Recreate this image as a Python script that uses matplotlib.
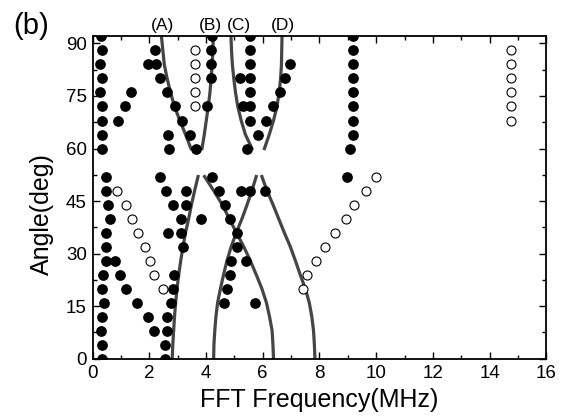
import numpy as np
import matplotlib
matplotlib.use('Agg')
import matplotlib.pyplot as plt
from matplotlib.ticker import MultipleLocator

plt.rcParams['font.family'] = ['Liberation Sans', 'DejaVu Sans']

# Filled points: one list of frequencies (MHz) per angle row (deg)
row_angles = [0, 4, 8, 12, 16, 20, 24, 28, 32, 36, 40, 44, 48, 52,
              60, 64, 68, 72, 76, 80, 84, 88, 92]
row_freqs = [
    [0.34, 2.57],
    [0.34, 2.57],
    [0.31, 2.17, 2.63],
    [0.34, 1.94, 2.63],
    [0.40, 1.58, 2.75, 4.62, 5.74],
    [0.34, 1.17, 2.85, 4.75],
    [0.38, 0.97, 2.87, 4.86],
    [0.48, 0.81, 4.88, 5.42],
    [0.48, 3.19, 5.09],
    [0.48, 2.65, 3.11, 5.09],
    [0.60, 3.12, 3.81, 4.86],
    [0.54, 2.82, 3.30, 4.68],
    [0.48, 2.58, 3.28, 4.45, 5.22, 5.54, 6.07],
    [0.48, 2.37, 4.21, 8.97],
    [0.34, 2.71, 3.66, 5.45, 9.08],
    [0.34, 2.65, 3.45, 5.82, 9.17],
    [0.32, 0.90, 3.16, 5.56, 6.11, 9.17],
    [0.32, 1.16, 2.90, 4.05, 5.29, 5.56, 6.36, 9.17],
    [0.28, 1.37, 2.61, 5.56, 6.62, 9.17],
    [0.32, 2.37, 4.16, 5.21, 5.56, 6.80, 9.17],
    [0.28, 1.96, 2.25, 4.18, 5.56, 6.97, 9.17],
    [0.32, 2.19, 4.18, 5.56, 9.17],
    [0.30, 4.21, 5.56, 9.17],
]

# Open points
open_freq = [0.85, 1.17, 1.38, 1.62, 1.84, 2.02, 2.17, 2.50,
             7.42, 7.56, 7.89, 8.20, 8.56, 8.93, 9.20, 9.64, 9.99,
             3.63, 3.63, 3.63, 3.63, 3.63,
             14.74, 14.74, 14.74, 14.74, 14.74, 14.74]
open_angle = [48, 44, 40, 36, 32, 28, 24, 20,
              20, 24, 28, 32, 36, 40, 44, 48, 52,
              88, 84, 80, 76, 72,
              88, 84, 80, 76, 72, 68]

# Guide curves
up_angle = [92, 88, 84, 80, 76, 72, 68, 64, 60]
curve_a_up = [2.43, 2.48, 2.53, 2.63, 2.75, 2.89, 3.08, 3.28, 3.47]
curve_b_up = [4.26, 4.24, 4.22, 4.18, 4.14, 4.08, 4.01, 3.94, 3.86]
curve_c_up = [4.88, 4.90, 4.93, 4.98, 5.04, 5.12, 5.24, 5.39, 5.62]
curve_d_up = [6.68, 6.67, 6.66, 6.63, 6.58, 6.50, 6.38, 6.23, 6.06]

low_angle = [0, 4, 8, 12, 16, 20, 24, 28, 32, 36, 40, 44, 48, 52]
curve_1_low = [2.81, 2.83, 2.86, 2.89, 2.93, 2.98, 3.04, 3.11, 3.19, 3.28, 3.39, 3.49, 3.60, 3.72]
curve_2_low = [6.38, 6.36, 6.33, 6.24, 6.13, 5.97, 5.77, 5.56, 5.33, 5.07, 4.82, 4.57, 4.27, 3.95]
curve_3_low = [4.27, 4.28, 4.31, 4.35, 4.41, 4.51, 4.62, 4.74, 4.89, 5.07, 5.27, 5.45, 5.62, 5.77]
curve_4_low = [7.84, 7.82, 7.79, 7.73, 7.64, 7.50, 7.32, 7.15, 6.97, 6.76, 6.56, 6.36, 6.15, 5.97]

branch_labels = ['(A)', '(B)', '(C)', '(D)']
branch_label_x = [2.48, 4.17, 5.15, 6.71]

filled_x = [f for row in row_freqs for f in row]
filled_y = [a for a, row in zip(row_angles, row_freqs) for _ in row]

fig = plt.figure(figsize=(5.71, 4.19), dpi=100)
ax = fig.add_axes([0.162, 0.144, 0.795, 0.769])

line_kw = dict(color='#454545', lw=2.3, zorder=2)
for fr in [curve_a_up, curve_b_up, curve_c_up, curve_d_up]:
    ax.plot(fr, up_angle, **line_kw)
for fr in [curve_1_low, curve_2_low, curve_3_low, curve_4_low]:
    ax.plot(fr, low_angle, **line_kw)

ax.plot(filled_x, filled_y, 'o', color='black', ms=6.7, zorder=3)
ax.plot(open_freq, open_angle, 'o', mfc='white', mec='black', mew=0.8, ms=6.5, zorder=3)

ax.set_xlim(0, 16)
ax.set_ylim(0, 92)
ax.xaxis.set_major_locator(MultipleLocator(2))
ax.xaxis.set_minor_locator(MultipleLocator(1))
ax.yaxis.set_major_locator(MultipleLocator(15))
ax.yaxis.set_minor_locator(MultipleLocator(7.5))
ax.tick_params(which='both', direction='in', top=True, right=True, width=1, labelsize=13.5)
ax.tick_params(which='major', length=5)
ax.tick_params(which='minor', length=3)
ax.tick_params(axis='x', which='major', pad=4.5)
ax.tick_params(axis='y', which='major', pad=4)
for sp in ax.spines.values():
    sp.set_linewidth(1.3)

ax.set_xlabel('FFT Frequency(MHz)', fontsize=18)
ax.set_ylabel('Angle(deg)', fontsize=18)
ax.xaxis.set_label_coords(0.5, -0.092)
ax.yaxis.set_label_coords(-0.112, 0.449)
ax.yaxis.label.set_va('center')

for lab, lx in zip(branch_labels, branch_label_x):
    ax.text(lx, 93.9, lab, ha='center', va='baseline', fontsize=12.5, clip_on=False)

fig.text(13 / 571, 1 - 34 / 419, '(b)', fontsize=21, ha='left', va='baseline')

fig.savefig('out.png', dpi=100)
